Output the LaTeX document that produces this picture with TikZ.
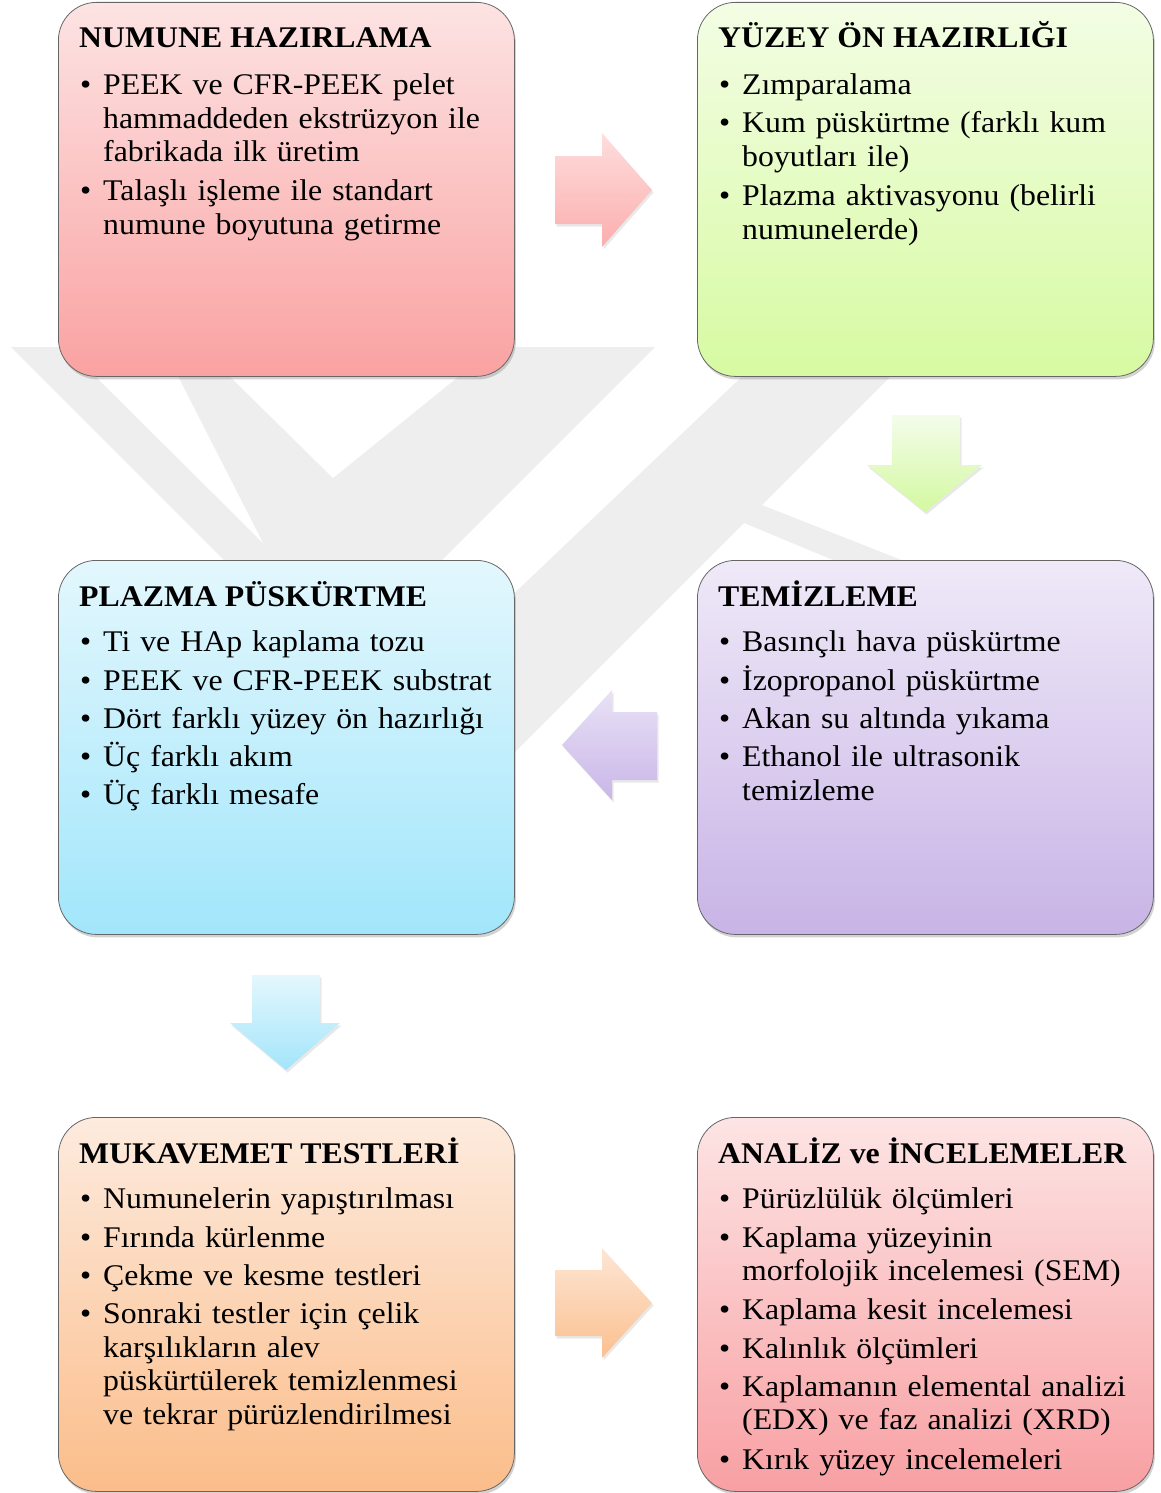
\documentclass[tikz,border=0pt]{standalone}
\usepackage{fontspec}
\setmainfont{Liberation Serif}[FakeStretch=1.06]
\usetikzlibrary{calc,shadows}
\definecolor{wm}{RGB}{238,238,238}
\definecolor{r1t}{HTML}{FDE3E3}\definecolor{r1b}{HTML}{FAA2A2}
\definecolor{g1t}{HTML}{F3FDE4}\definecolor{g1b}{HTML}{D7FAA2}
\definecolor{c1t}{HTML}{E3F7FD}\definecolor{c1b}{HTML}{A2E6FB}
\definecolor{p1t}{HTML}{EFE9F8}\definecolor{p1b}{HTML}{C8B4E6}
\definecolor{o1t}{HTML}{FDEBDE}\definecolor{o1b}{HTML}{FBBD8A}
\definecolor{s1t}{HTML}{FDE4E4}\definecolor{s1b}{HTML}{F8A0A3}
\definecolor{ar1t}{HTML}{FFDDDD}\definecolor{ar1b}{HTML}{FBAEAE}
\definecolor{ar2t}{HTML}{F4FCEB}\definecolor{ar2b}{HTML}{D3F9A0}
\definecolor{ar3t}{HTML}{E9E2F6}\definecolor{ar3b}{HTML}{C9B6E8}
\definecolor{ar4t}{HTML}{E4F7FD}\definecolor{ar4b}{HTML}{A3E5FB}
\definecolor{ar5t}{HTML}{FDE6D5}\definecolor{ar5b}{HTML}{FBC08F}
\newcommand{\bitem}[1]{\par\noindent\makebox[23pt][l]{\rule{0pt}{26pt}\textbullet}\parbox[t]{417pt}{\rule{0pt}{26pt}#1\rule[-7.5pt]{0pt}{7.5pt}}\par\vspace{4.8pt}}
\tikzset{
  stage/.style={rectangle, rounded corners=38pt, draw=black!60, line width=0.8pt,
    anchor=north west, inner sep=0pt, minimum width=456pt, minimum height=374pt,
    drop shadow={shadow xshift=1.5pt, shadow yshift=-3pt, opacity=0.35}},
  ttl/.style={anchor=base west, inner sep=0pt, font=\fontsize{30}{33.5}\selectfont\bfseries},
  body/.style={anchor=north west, inner sep=0pt, text width=440pt, font=\fontsize{30}{33.5}\selectfont},
  blockarrow/.style={drop shadow={shadow xshift=1.5pt, shadow yshift=-2.5pt, opacity=0.18}}
}
\begin{document}
\begin{tikzpicture}[x=1pt,y=-1pt]
\useasboundingbox (0,0) rectangle (1160,1493);
% watermark
\fill[wm] (11,347) -- (655,347) -- (333,669) -- cycle;
\fill[white] (66,347) -- (163,347) -- (263,543) -- cycle;
\fill[white] (200,347) -- (495,347) -- (333,478) -- cycle;
\fill[wm] (773,347) -- (920,347) -- (367,900) -- (192,900) -- cycle;
\fill[wm] (744,523) -- (929,600) -- (1003,600) -- (762,505) -- cycle;
% boxes
\node[stage, top color=r1t, bottom color=r1b] (b1) at (58,2) {};
\node[stage, top color=g1t, bottom color=g1b] (b2) at (697,2) {};
\node[stage, top color=c1t, bottom color=c1b] (b3) at (58,560) {};
\node[stage, top color=p1t, bottom color=p1b] (b4) at (697,560) {};
\node[stage, top color=o1t, bottom color=o1b] (b5) at (58,1117) {};
\node[stage, top color=s1t, bottom color=s1b] (b6) at (697,1117) {};
% titles
\node[ttl] (t1) at ($(b1.north west)+(21,46)$) {NUMUNE HAZIRLAMA};
\node[ttl] (t2) at ($(b2.north west)+(21,46)$) {YÜZEY ÖN HAZIRLIĞI};
\node[ttl] (t3) at ($(b3.north west)+(21,46)$) {PLAZMA PÜSKÜRTME};
\node[ttl] (t4) at ($(b4.north west)+(21,46)$) {TEMİZLEME};
\node[ttl] (t5) at ($(b5.north west)+(21,46)$) {MUKAVEMET TESTLERİ};
\node[ttl] (t6) at ($(b6.north west)+(21,46)$) {ANALİZ ve İNCELEMELER};
% bodies
\node[body] (l1) at ($(b1.north west)+(22,59)$) {%
\bitem{PEEK ve CFR-PEEK pelet\\hammaddeden ekstrüzyon ile\\fabrikada ilk üretim}%
\bitem{Talaşlı işleme ile standart\\numune boyutuna getirme}};
\node[body] (l2) at ($(b2.north west)+(22,59)$) {%
\bitem{Zımparalama}%
\bitem{Kum püskürtme (farklı kum\\boyutları ile)}%
\bitem{Plazma aktivasyonu (belirli\\numunelerde)}};
\node[body] (l3) at ($(b3.north west)+(22,58)$) {%
\bitem{Ti ve HAp kaplama tozu}%
\bitem{PEEK ve CFR-PEEK substrat}%
\bitem{Dört farklı yüzey ön hazırlığı}%
\bitem{Üç farklı akım}%
\bitem{Üç farklı mesafe}};
\node[body] (l4) at ($(b4.north west)+(22,58)$) {%
\bitem{Basınçlı hava püskürtme}%
\bitem{İzopropanol püskürtme}%
\bitem{Akan su altında yıkama}%
\bitem{Ethanol ile ultrasonik\\temizleme}};
\node[body] (l5) at ($(b5.north west)+(22,58)$) {%
\bitem{Numunelerin yapıştırılması}%
\bitem{Fırında kürlenme}%
\bitem{Çekme ve kesme testleri}%
\bitem{Sonraki testler için çelik\\karşılıkların alev\\püskürtülerek temizlenmesi\\ve tekrar pürüzlendirilmesi}};
\node[body] (l6) at ($(b6.north west)+(22,58)$) {%
\bitem{Pürüzlülük ölçümleri}%
\bitem{Kaplama yüzeyinin\\morfolojik incelemesi (SEM)}%
\bitem{Kaplama kesit incelemesi}%
\bitem{Kalınlık ölçümleri}%
\bitem{Kaplamanın elemental analizi\\(EDX) ve faz analizi (XRD)}%
\bitem{Kırık yüzey incelemeleri}};
% block arrows
\shade[blockarrow, top color=ar1t, bottom color=ar1b]
  (555,156) -- (602,156) -- (602,133) -- (652,190) -- (602,247) -- (602,224) -- (555,224) -- cycle;
\shade[blockarrow, top color=ar2t, bottom color=ar2b]
  (892,415) -- (960,415) -- (960,465) -- (982,465) -- (925,512) -- (867,465) -- (892,465) -- cycle;
\shade[blockarrow, top color=ar3t, bottom color=ar3b]
  (657,712) -- (612,712) -- (612,690) -- (562,745) -- (612,800) -- (612,780) -- (657,780) -- cycle;
\shade[blockarrow, top color=ar4t, bottom color=ar4b]
  (252,975) -- (320,975) -- (320,1023) -- (340,1023) -- (286,1070) -- (230,1023) -- (252,1023) -- cycle;
\shade[blockarrow, top color=ar5t, bottom color=ar5b]
  (555,1270) -- (602,1270) -- (602,1248) -- (652,1303) -- (602,1358) -- (602,1336) -- (555,1336) -- cycle;
\end{tikzpicture}
\end{document}
